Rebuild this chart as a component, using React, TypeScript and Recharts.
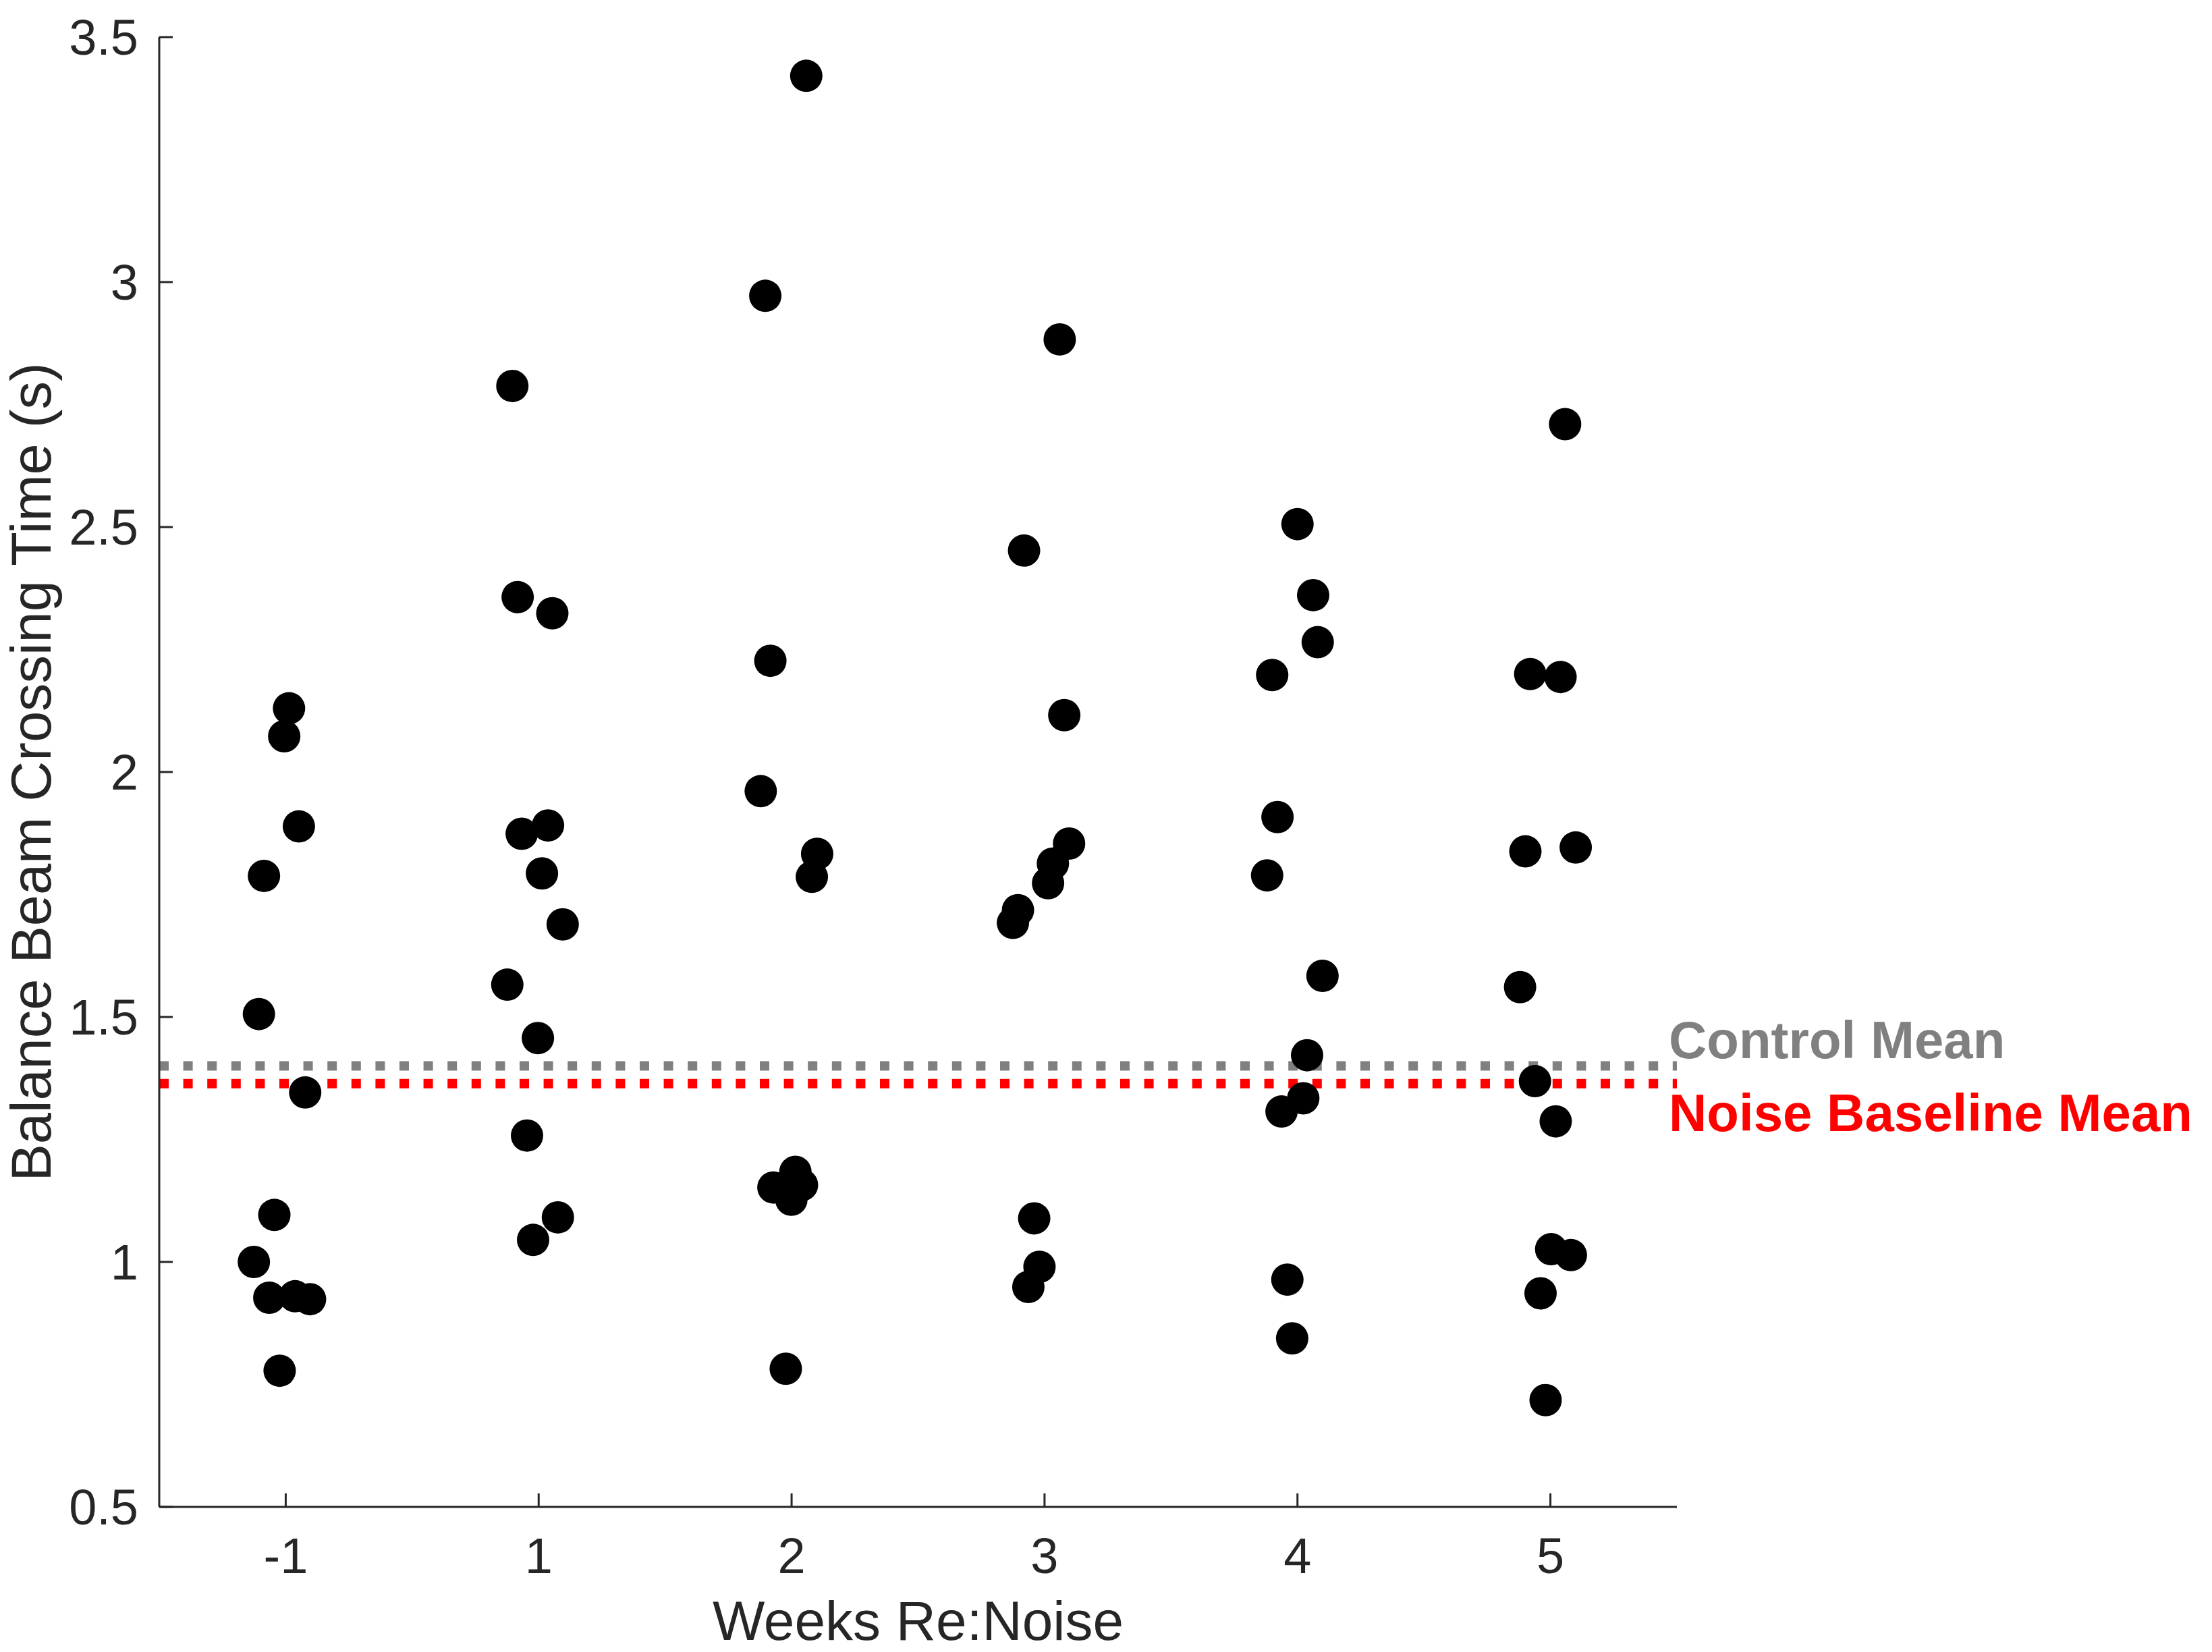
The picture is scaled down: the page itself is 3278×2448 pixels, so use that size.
import React from "react";
import {
  ScatterChart,
  Scatter,
  XAxis,
  YAxis,
  ReferenceLine,
} from "recharts";

const FONT = "'Liberation Sans', Arial, Helvetica, sans-serif";
const AXIS_COLOR = "#262626";

const weekLabels = ["-1", "1", "2", "3", "4", "5"];
const yTicks = [0.5, 1, 1.5, 2, 2.5, 3, 3.5];

// crossing times (s) per week, with the horizontal jitter each dot was drawn with
const weekM1Time = [2.13, 2.073, 1.889, 1.788, 1.506, 1.346, 1.096, 1.0, 0.927, 0.93, 0.924, 0.778];
const weekM1Jitter = [0.013, -0.006, 0.052, -0.086, -0.106, 0.077, -0.045, -0.126, -0.065, 0.037, 0.096, -0.024];

const week1Time = [2.788, 2.357, 2.324, 1.874, 1.891, 1.793, 1.689, 1.566, 1.457, 1.258, 1.091, 1.045];
const week1Jitter = [-0.104, -0.083, 0.054, -0.067, 0.037, 0.013, 0.095, -0.124, -0.003, -0.046, 0.076, -0.022];

const week2Time = [3.421, 2.972, 2.227, 1.961, 1.833, 1.786, 1.152, 1.184, 1.157, 1.127, 0.782];
const week2Jitter = [0.058, -0.104, -0.084, -0.122, 0.101, 0.08, -0.072, 0.015, 0.041, -0.001, -0.023];

const week3Time = [2.883, 2.452, 2.116, 1.854, 1.813, 1.773, 1.718, 1.692, 1.089, 0.99, 0.949];
const week3Jitter = [0.06, -0.081, 0.078, 0.097, 0.033, 0.014, -0.105, -0.125, -0.041, -0.02, -0.064];

const week4Time = [2.506, 2.361, 2.265, 2.198, 1.908, 1.789, 1.584, 1.422, 1.334, 1.307, 0.964, 0.844];
const week4Jitter = [0.0, 0.062, 0.08, -0.1, -0.079, -0.12, 0.099, 0.038, 0.023, -0.063, -0.04, -0.021];

const week5Time = [2.71, 2.2, 2.194, 1.838, 1.846, 1.561, 1.369, 1.287, 1.026, 1.014, 0.936, 0.718];
const week5Jitter = [0.058, -0.08, 0.04, -0.099, 0.1, -0.12, -0.061, 0.021, 0.003, 0.081, -0.039, -0.019];

const CONTROL_MEAN = 1.4;
const NOISE_BASELINE_MEAN = 1.364;

const weeks = [
  { time: weekM1Time, jitter: weekM1Jitter },
  { time: week1Time, jitter: week1Jitter },
  { time: week2Time, jitter: week2Jitter },
  { time: week3Time, jitter: week3Jitter },
  { time: week4Time, jitter: week4Jitter },
  { time: week5Time, jitter: week5Jitter },
];

const points = weeks.flatMap((w, i) =>
  w.time.map((t, k) => ({ x: i + w.jitter[k], y: t }))
);

function Dot(props: any) {
  return <circle cx={props.cx} cy={props.cy} r={24} fill="#000" />;
}

function meanLabel(text: string, color: string, dy: number) {
  return (props: any) => {
    const vb = props.viewBox;
    return (
      <text
        x={vb.x + vb.width - 12}
        y={vb.y + dy}
        fill={color}
        fontSize={78}
        fontWeight="bold"
        fontFamily={FONT}
        textAnchor="start"
      >
        {text}
      </text>
    );
  };
}

export default function App() {
  return (
    <div
      style={{
        position: "absolute",
        left: 0,
        top: 0,
        width: 3278,
        height: 2448,
        background: "#fff",
      }}
    >
      <ScatterChart
        width={3278}
        height={2448}
        margin={{ top: 55, right: 793, bottom: 0, left: 0 }}
      >
        <XAxis
          type="number"
          dataKey="x"
          domain={[-0.5, 5.5]}
          ticks={[0, 1, 2, 3, 4, 5]}
          tickFormatter={(v: number) => weekLabels[v]}
          height={215}
          axisLine={{ stroke: AXIS_COLOR, strokeWidth: 3 }}
          tickLine={{ stroke: AXIS_COLOR, strokeWidth: 3 }}
          tick={{ fill: AXIS_COLOR, fontSize: 74, fontFamily: FONT }}
          tickSize={-20}
          tickMargin={65}
          label={{
            value: "Weeks Re:Noise",
            position: "insideBottom",
            offset: 18,
            fontSize: 82,
            fill: AXIS_COLOR,
            fontFamily: FONT,
          }}
        />
        <YAxis
          type="number"
          dataKey="y"
          domain={[0.5, 3.5]}
          ticks={yTicks}
          tickFormatter={(v: number) => String(v)}
          width={236}
          axisLine={{ stroke: AXIS_COLOR, strokeWidth: 3 }}
          tickLine={{ stroke: AXIS_COLOR, strokeWidth: 3 }}
          tick={{ fill: AXIS_COLOR, fontSize: 74, fontFamily: FONT }}
          tickSize={-20}
          tickMargin={51}
          label={{
            value: "Balance Beam Crossing Time (s)",
            angle: -90,
            position: "insideLeft",
            offset: 46,
            fontSize: 83,
            fill: AXIS_COLOR,
            fontFamily: FONT,
            style: { textAnchor: "middle" },
          }}
        />
        <Scatter data={points} shape={<Dot />} isAnimationActive={false} />
        <ReferenceLine
          y={CONTROL_MEAN}
          stroke="#808080"
          strokeWidth={14}
          strokeDasharray="14 21.6"
          label={meanLabel("Control Mean", "#808080", -12)}
        />
        <ReferenceLine
          y={NOISE_BASELINE_MEAN}
          stroke="#ff0000"
          strokeWidth={14}
          strokeDasharray="14 21.6"
          label={meanLabel("Noise Baseline Mean", "#ff0000", 70)}
        />
      </ScatterChart>
    </div>
  );
}
